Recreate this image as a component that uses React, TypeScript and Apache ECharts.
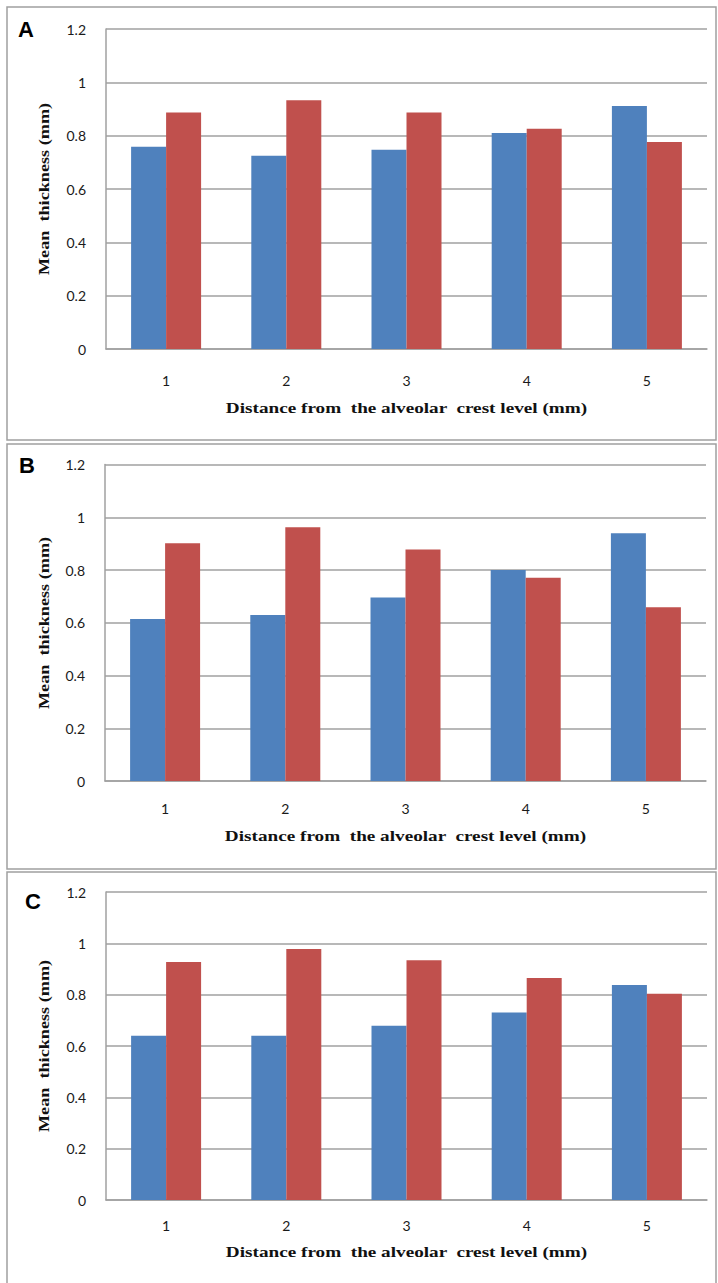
import React, { useEffect, useRef } from "react";
import * as echarts from "echarts";

const categories = ["1", "2", "3", "4", "5"];
const panelLetters = ["A", "B", "C"];
const blueA = [0.758, 0.725, 0.747, 0.81, 0.911];
const redA = [0.887, 0.933, 0.887, 0.826, 0.776];
const blueB = [0.614, 0.629, 0.696, 0.8, 0.939];
const redB = [0.901, 0.962, 0.878, 0.771, 0.659];
const blueC = [0.64, 0.64, 0.679, 0.731, 0.838];
const redC = [0.927, 0.978, 0.934, 0.865, 0.804];
const xTitle = "Distance from  the alveolar  crest level (mm)";
const yTitle = "Mean  thickness (mm)";

const BLUE = "#4F81BD";
const RED = "#C0504D";
const GRAY = "#A0A0A0";

export default function App() {
  const ref = useRef<HTMLDivElement>(null);
  useEffect(() => {
    if (!ref.current) return;
    const chart = echarts.init(ref.current, null, { renderer: "svg" });
    const grids = [
      { left: 106, top: 29, width: 601, height: 320 },
      { left: 105, top: 464.5, width: 601, height: 316.5 },
      { left: 106, top: 892, width: 601, height: 308 },
    ];
    const labelMargins = [24, 20, 18];
    const frames = [
      { y: 7, h: 433 },
      { y: 444, h: 425 },
      { y: 872, h: 420 },
    ];
    const letterPos = [
      { x: 26, y: 29 },
      { x: 27, y: 465 },
      { x: 33, y: 901 },
    ];
    const xTitleY = [408, 836, 1252];
    const yTitleY = [189, 623, 1046];
    const data = [
      [blueA, redA],
      [blueB, redB],
      [blueC, redC],
    ];
    const xAxis = grids.map((_, i) => ({
      type: "category",
      gridIndex: i,
      data: categories,
      axisTick: { show: false },
      axisLine: { lineStyle: { color: GRAY, width: 1.5 } },
      axisLabel: { color: "#1a1a1a", fontFamily: "Lato", fontSize: 14, margin: labelMargins[i] },
    }));
    const yAxis = grids.map((_, i) => ({
      type: "value",
      gridIndex: i,
      min: 0,
      max: 1.2,
      interval: 0.2,
      axisTick: { show: false },
      axisLine: { show: true, lineStyle: { color: GRAY, width: 1.5 } },
      splitLine: { lineStyle: { color: GRAY, width: 1.5 } },
      axisLabel: {
        color: "#1a1a1a",
        fontFamily: "Lato",
        fontSize: 14,
        margin: 20,
        formatter: (v: number) => String(Math.round(v * 10) / 10),
      },
    }));
    const series: any[] = [];
    data.forEach((pair, i) => {
      pair.forEach((vals, j) => {
        series.push({
          type: "bar",
          xAxisIndex: i,
          yAxisIndex: i,
          data: vals,
          barWidth: 35,
          barGap: "0%",
          itemStyle: { color: j === 0 ? BLUE : RED },
          emphasis: { disabled: true },
        });
      });
    });
    const graphic: any[] = [];
    frames.forEach((f) => {
      graphic.push({
        type: "rect",
        shape: { x: 7, y: f.y, width: 709, height: f.h },
        style: { fill: "none", stroke: GRAY, lineWidth: 1.5 },
        silent: true,
        z: -1,
      });
    });
    letterPos.forEach((p, i) => {
      graphic.push({
        type: "text",
        x: p.x,
        y: p.y,
        style: {
          text: panelLetters[i],
          fontFamily: "Liberation Sans",
          fontWeight: "bold",
          fontSize: 22,
          fill: "#000",
          align: "center",
          verticalAlign: "middle",
        },
      });
    });
    grids.forEach((g, i) => {
      graphic.push({
        type: "text",
        x: g.left + g.width / 2,
        y: xTitleY[i],
        scaleX: 1.28,
        style: {
          text: xTitle,
          fontFamily: "Liberation Serif",
          fontWeight: "bold",
          fontSize: 15,
          fill: "#111",
          align: "center",
          verticalAlign: "middle",
        },
      });
      graphic.push({
        type: "text",
        x: 45,
        y: yTitleY[i],
        rotation: Math.PI / 2,
        scaleX: 1.3,
        style: {
          text: yTitle,
          fontFamily: "Liberation Serif",
          fontWeight: "bold",
          fontSize: 14,
          fill: "#111",
          align: "center",
          verticalAlign: "middle",
        },
      });
    });
    chart.setOption({
      animation: false,
      grid: grids,
      xAxis,
      yAxis,
      series,
      graphic,
    });
    return () => chart.dispose();
  }, []);
  return (
    <div
      ref={ref}
      style={{ position: "absolute", left: 0, top: 0, width: 718, height: 1283, background: "#fff" }}
    />
  );
}
